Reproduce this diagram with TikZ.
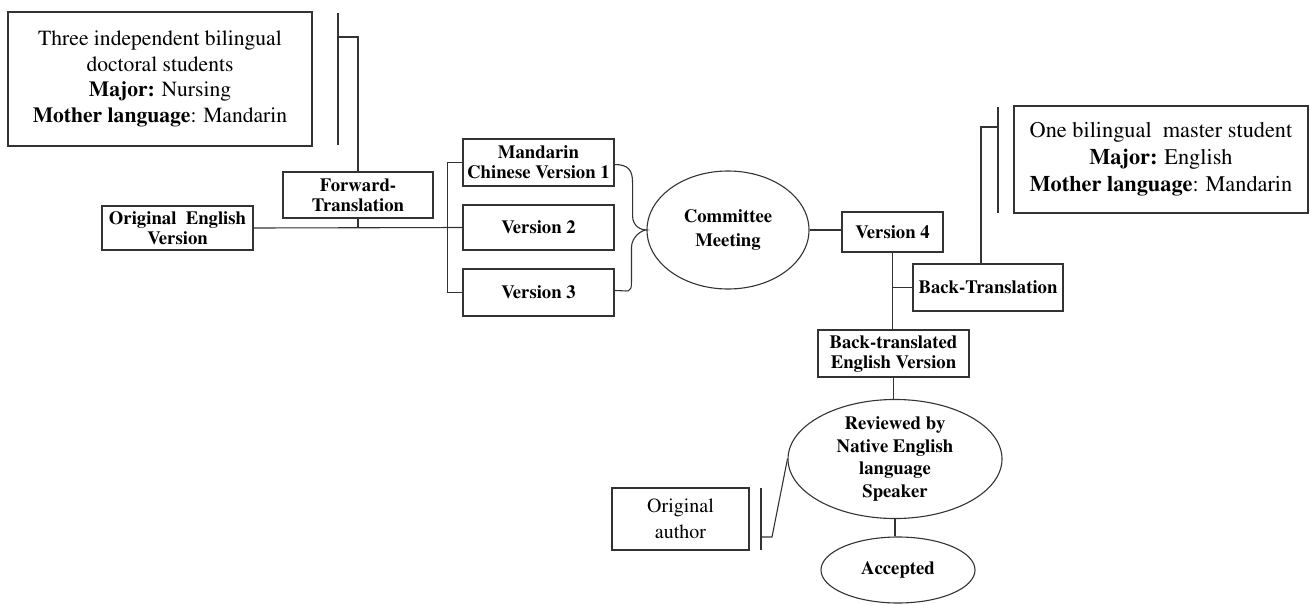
\documentclass[tikz,border=0pt]{standalone}
\usepackage[T1]{fontenc}
\renewcommand{\rmdefault}{ptm}
\usetikzlibrary{shapes.geometric}
\tikzset{
  ln/.style={draw=black!80, line width=1.1pt},
  bbox/.style={ln, rectangle, inner sep=0pt, align=center, font={\fontsize{18.7}{20}\selectfont\bfseries}},
  tbox/.style={ln, rectangle, inner sep=0pt, align=center, font={\fontsize{21.6}{25.5}\selectfont}},
  oval/.style={ln, ellipse, inner sep=0pt, align=center, font={\fontsize{18.7}{24}\selectfont\bfseries}},
}
\begin{document}
\begin{tikzpicture}[x=1pt,y=-1pt]
\useasboundingbox (0,0) rectangle (1310,605);
% boxes
\node[tbox, minimum width=304pt, minimum height=134pt] (tl) at (160,79)
  {Three independent bilingual\\doctoral students\\\textbf{Major:} Nursing\\\textbf{Mother language}: Mandarin};
\node[bbox, minimum width=150pt, minimum height=46pt] (ft) at (358,195) {Forward-\\Translation};
\node[bbox, minimum width=151pt, minimum height=44pt] (orig) at (177.5,228) {Original\ \ English\\Version};
\node[bbox, minimum width=151pt, minimum height=47pt] (m1) at (538.5,162.5) {Mandarin\\Chinese Version 1};
\node[bbox, minimum width=151pt, minimum height=45pt] (v2) at (538.5,227.5) {Version 2};
\node[bbox, minimum width=151pt, minimum height=47pt] (v3) at (538.5,292.5) {Version 3};
\node[oval, minimum width=162pt, minimum height=118pt] (cm) at (728,230) {Committee\\Meeting};
\node[bbox, minimum width=101pt, minimum height=40pt] (v4) at (892.5,232) {Version 4};
\node[bbox, minimum width=150pt, minimum height=47pt] (bt) at (988,287.5) {Back-Translation};
\node[bbox, minimum width=151pt, minimum height=47pt] (btev) at (893.5,353.5) {Back-translated\\English Version};
\node[tbox, minimum width=294pt, minimum height=107pt, font={\fontsize{22.3}{27}\selectfont}] (rb) at (1161,159.5)
  {One bilingual\ \ master student\\\textbf{Major:} English\\\textbf{Mother language}: Mandarin};
\node[oval, minimum width=214pt, minimum height=102pt, font={\fontsize{18.7}{22.5}\selectfont\bfseries}] (rv) at (895,459)
  {Reviewed by\\Native English\\language\\Speaker};
\node[oval, minimum width=154pt, minimum height=66pt] (acc) at (898,570) {Accepted};
\node[tbox, minimum width=137pt, minimum height=62pt, font={\fontsize{20}{26}\selectfont}] (oa) at (680.5,519) {Original\\author};
% bar coordinates
\coordinate (tlbA) at (338,13);
\coordinate (tlbB) at (338,145);
\coordinate (tlb) at (338,37);
\coordinate (rbA) at (998,107);
\coordinate (rbB) at (998,213);
\coordinate (rbb) at (998,127);
\coordinate (oaA) at (761,488);
\coordinate (oaB) at (761,550);
\coordinate (oab) at (761,537);
% connectors
\draw[ln] (tlbA) -- (tlbB);
\draw[ln] (tlb) -| (ft.north);
\draw[ln] (orig.east) -- (v2.west);
\draw[ln] (ft.south) -- (ft.south |- orig.east);
\draw[ln] (m1.west) -- ++(-15,0) |- (v3.west);
\draw[ln] ([yshift=-2pt]m1.east) .. controls ++(14,0) and ++(0,-12) .. ++(18,18)
  -- ++(0,33) .. controls ++(0,12) and ++(-4,0) .. (cm.west)
  .. controls ++(-4,0) and ++(0,-12) .. ++(-15,18)
  -- ++(0,34) .. controls ++(0,12) and ++(14,0) .. ([yshift=2pt]v3.east);
\draw[ln] (cm.east) -- (cm.east -| v4.west);
\draw[ln] (v4.south) -- (v4.south |- btev.north);
\draw[ln] (v4.south |- bt.west) -- (bt.west);
\draw[ln] (rbA) -- (rbB);
\draw[ln] (rbb) -| ([xshift=-7pt]bt.north);
\draw[ln] (btev.south) -- (btev.south |- rv.north);
\draw[ln] (rv.south) -- (rv.south |- acc.north);
\draw[ln] (oaA) -- (oaB);
\draw[ln] (oab) -- ++(11,0) -- (rv.west);
\end{tikzpicture}
\end{document}
